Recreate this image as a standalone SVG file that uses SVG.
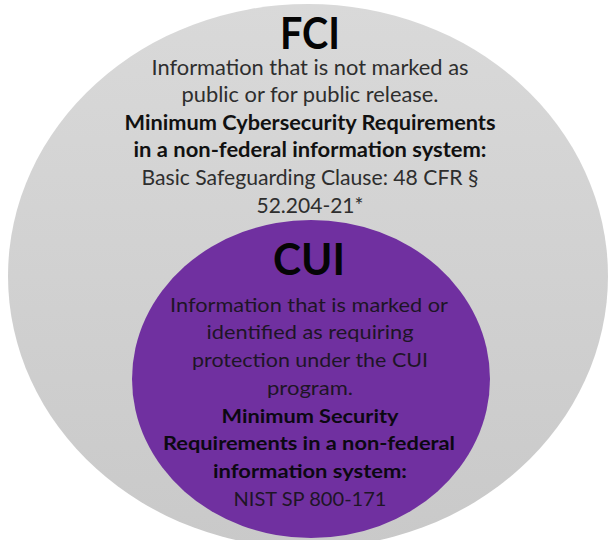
<svg xmlns="http://www.w3.org/2000/svg" width="610" height="540" viewBox="0 0 610 540">
  <defs>
    <linearGradient id="grayFill" x1="0" y1="0" x2="0" y2="1">
      <stop offset="0" stop-color="#d9d9d9"/>
      <stop offset="1" stop-color="#c9c9c9"/>
    </linearGradient>
    <style>
      text { font-family: Lato, "Open Sans", "Liberation Sans", sans-serif; text-anchor: middle; }
      .title { font-weight: 700; font-size: 44px; fill: #050505; }
      .body1 { font-size: 21px; fill: #2e2e2e; }
      .bold1 { font-size: 21px; font-weight: 700; fill: #111; }
      .body2 { font-size: 19px; fill: #1e1526; }
      .bold2 { font-size: 19px; font-weight: 700; fill: #0c0812; }
    </style>
  </defs>
  <rect width="610" height="540" fill="#ffffff"/>
  <g id="connectors"/>
  <g id="fci">
    <ellipse cx="308" cy="276" rx="300" ry="272" fill="url(#grayFill)"/>
    <text class="title" x="310" y="49" textLength="60" lengthAdjust="spacingAndGlyphs">FCI</text>
    <text class="body1" x="310" y="75" textLength="317" lengthAdjust="spacingAndGlyphs">Information that is not marked as</text>
    <text class="body1" x="310" y="102" textLength="257" lengthAdjust="spacingAndGlyphs">public or for public release.</text>
    <text class="bold1" x="310" y="130" textLength="371" lengthAdjust="spacingAndGlyphs">Minimum Cybersecurity Requirements</text>
    <text class="bold1" x="310" y="157" textLength="353" lengthAdjust="spacingAndGlyphs">in a non-federal information system:</text>
    <text class="body1" x="310" y="185" textLength="337" lengthAdjust="spacingAndGlyphs">Basic Safeguarding Clause: 48 CFR §</text>
    <text class="body1" x="310" y="213" textLength="107" lengthAdjust="spacingAndGlyphs">52.204-21*</text>
  </g>
  <g id="cui">
    <ellipse cx="311" cy="379" rx="179" ry="159" fill="#7030a0"/>
    <text class="title" x="309" y="275" textLength="72" lengthAdjust="spacingAndGlyphs">CUI</text>
    <text class="body2" x="309" y="311.5" textLength="278" lengthAdjust="spacingAndGlyphs">Information that is marked or</text>
    <text class="body2" x="310" y="339" textLength="207" lengthAdjust="spacingAndGlyphs">identified as requiring</text>
    <text class="body2" x="310" y="367" textLength="236" lengthAdjust="spacingAndGlyphs">protection under the CUI</text>
    <text class="body2" x="310" y="395" textLength="86" lengthAdjust="spacingAndGlyphs">program.</text>
    <text class="bold2" x="310" y="422.5" textLength="177" lengthAdjust="spacingAndGlyphs">Minimum Security</text>
    <text class="bold2" x="309" y="450" textLength="292" lengthAdjust="spacingAndGlyphs">Requirements in a non-federal</text>
    <text class="bold2" x="310" y="478" textLength="194" lengthAdjust="spacingAndGlyphs">information system:</text>
    <text class="body2" x="310" y="506" textLength="153" lengthAdjust="spacingAndGlyphs">NIST SP 800-171</text>
  </g>
</svg>
